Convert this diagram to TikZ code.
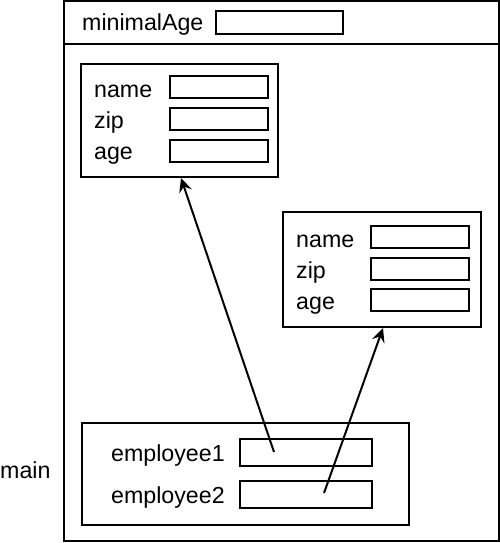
\documentclass[tikz,border=0pt]{standalone}
\usepackage{fontspec}
\setmainfont{Liberation Sans}
\usetikzlibrary{arrows.meta}
\begin{document}
\begin{tikzpicture}[x=1pt,y=-1pt,
  every node/.style={font=\fontsize{23.2}{26}\selectfont},
  box/.style={draw,line width=2pt,inner sep=0pt},
  field/.style={box,minimum width=98pt,minimum height=22pt},
  lbl/.style={anchor=base west,inner sep=0pt},
  ptr/.style={line width=2pt,-{Stealth[length=14pt,width=13pt,inset=5pt]}}]
\useasboundingbox (0,0) rectangle (500,543);
% outer frame
\node[box,minimum width=435pt,minimum height=540pt] (frame) at (281.5,271) {};
\coordinate (dl) at (64,44);
\coordinate (dr) at (499,44);
\draw[line width=2pt] (dl) -- (dr);
\node[lbl] (lma) at (82,31) {minimalAge};
\node[box,minimum width=127pt,minimum height=23pt] (fma) at (279.5,22.5) {};
% object 1
\node[box,minimum width=197pt,minimum height=113pt] (o1) at (179.5,120.5) {};
\node[lbl] (l1n) at (94,97.5) {name};
\node[lbl] (l1z) at (94,128.5) {zip};
\node[lbl] (l1a) at (94,159.5) {age};
\node[field] (f1n) at (219,87) {};
\node[field] (f1z) at (219,119) {};
\node[field] (f1a) at (219,150.5) {};
% object 2
\node[box,minimum width=198pt,minimum height=115pt] (o2) at (382,269.5) {};
\node[lbl] (l2n) at (296,247.5) {name};
\node[lbl] (l2z) at (296,278.5) {zip};
\node[lbl] (l2a) at (296,309.5) {age};
\node[field] (f2n) at (420,237) {};
\node[field] (f2z) at (420,269) {};
\node[field] (f2a) at (420,300) {};
% main
\node[anchor=west,inner sep=0pt] (lmain) at (0,470) {main};
\node[box,minimum width=327pt,minimum height=102pt] (mb) at (245.5,474) {};
\node[lbl] (le1) at (111,461) {employee1};
\node[lbl] (le2) at (111,503) {employee2};
\node[box,minimum width=132pt,minimum height=27pt] (fe1) at (306,452.5) {};
\node[box,minimum width=132pt,minimum height=27pt] (fe2) at (306,494.5) {};
% pointers
\coordinate (s1) at (274,452);
\coordinate (s2) at (324,493);
\coordinate (t1) at (181,178);
\coordinate (t2) at (383,328);
\draw[ptr] (s1) -- (t1);
\draw[ptr] (s2) -- (t2);
\end{tikzpicture}
\end{document}
